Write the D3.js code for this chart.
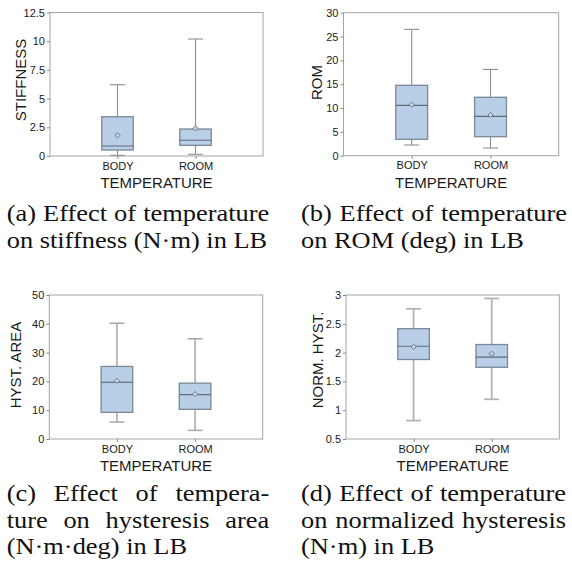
<!DOCTYPE html>
<html>
<head>
<meta charset="utf-8">
<script src="https://cdn.jsdelivr.net/npm/d3@7"></script>
<style>
  html, body { margin: 0; padding: 0; background: #fff; }
  svg { display: block; }
</style>
</head>
<body>
<svg id="fig" width="572" height="573"></svg>
<script>
// Temperature groups
const categories = ["BODY", "ROOM"];

// Five-number summaries per group: [min, q1, median, q3, max]
const stiffnessBody = [0.06, 0.52, 0.87, 3.42, 6.21];
const stiffnessRoom = [0.15, 0.93, 1.37, 2.35, 10.19];
const stiffnessMean = [1.80, 2.41];
const stiffnessTicks = [0, 2.5, 5, 7.5, 10, 12.5];

const romBody = [2.24, 3.44, 10.57, 14.77, 26.5];
const romRoom = [1.61, 3.99, 8.26, 12.25, 18.1];
const romMean = [10.7, 8.54];
const romTicks = [0, 5, 10, 15, 20, 25, 30];

const hystAreaBody = [5.9, 9.26, 19.7, 25.2, 40.2];
const hystAreaRoom = [3.0, 10.3, 15.4, 19.4, 34.8];
const hystAreaMean = [20.2, 15.6];
const hystAreaTicks = [0, 10, 20, 30, 40, 50];

const normHystBody = [0.82, 1.88, 2.11, 2.415, 2.76];
const normHystRoom = [1.19, 1.745, 1.92, 2.14, 2.94];
const normHystMean = [2.10, 1.98];
const normHystTicks = [0.5, 1, 1.5, 2, 2.5, 3];

// Caption lines; "true" marks a line set flush on both sides
const captionA = [["(a) Effect of temperature", true], ["on stiffness (N·m) in LB", false]];
const captionB = [["(b) Effect of temperature", true], ["on ROM (deg) in LB", false]];
const captionC = [["(c) Effect of tempera-", true], ["ture on hysteresis area", true], ["(N·m·deg) in LB", false]];
const captionD = [["(d) Effect of temperature", true], ["on normalized hysteresis", true], ["(N·m) in LB", false]];

const svg = d3.select("#fig");
const SANS = "'Liberation Sans', Arial, sans-serif";
const SERIF = "'Liberation Serif', 'Times New Roman', serif";

const panels = [
  { title: "STIFFNESS", boxes: [stiffnessBody, stiffnessRoom], means: stiffnessMean, ticks: stiffnessTicks,
    frame: { left: 50, right: 263, top: 12.5, bottom: 156 }, titlePos: [20, 80],
    whisker: { color: "#8e8e8e", width: 1.1 }, caption: captionA, capX: 6.7, capY: 221, capW: 262.5 },
  { title: "ROM", boxes: [romBody, romRoom], means: romMean, ticks: romTicks,
    frame: { left: 343.5, right: 558.7, top: 12.7, bottom: 155.7 }, titlePos: [316, 82.5],
    whisker: { color: "#8e8e8e", width: 1.1 }, caption: captionB, capX: 301, capY: 221, capW: 266 },
  { title: "HYST. AREA", boxes: [hystAreaBody, hystAreaRoom], means: hystAreaMean, ticks: hystAreaTicks,
    frame: { left: 49.3, right: 262.7, top: 295, bottom: 439 }, titlePos: [15, 365],
    whisker: { color: "#a8a8a8", width: 1.5 }, caption: captionC, capX: 6.7, capY: 501, capW: 262.5 },
  { title: "NORM. HYST.", boxes: [normHystBody, normHystRoom], means: normHystMean, ticks: normHystTicks,
    frame: { left: 346, right: 559.3, top: 295, bottom: 439 }, titlePos: [317.7, 360],
    whisker: { color: "#b4b4b4", width: 1.8 }, caption: captionD, capX: 301, capY: 501, capW: 265 }
];

panels.forEach(p => {
  const f = p.frame;
  const W = f.right - f.left;
  const y = d3.scaleLinear()
    .domain(d3.extent(p.ticks))
    .range([f.bottom, f.top]);
  const x = d3.scalePoint()
    .domain(categories)
    .range([f.left, f.right])
    .padding(0.865);

  const g = svg.append("g");

  // plot frame
  g.append("rect")
    .attr("x", f.left).attr("y", f.top)
    .attr("width", W).attr("height", f.bottom - f.top)
    .attr("fill", "none").attr("stroke", "#a4a4a4").attr("stroke-width", 1);

  // y axis
  const ya = g.append("g")
    .attr("transform", `translate(${f.left},0)`)
    .call(d3.axisLeft(y).tickValues(p.ticks).tickSize(3).tickPadding(2).tickFormat(d3.format("~g")));
  ya.select(".domain").remove();
  ya.selectAll(".tick line").attr("stroke", "#8a8a8a");
  ya.selectAll(".tick text").style("font-family", SANS).style("font-size", "11px").attr("fill", "#1a1a1a");

  // x axis
  const xa = g.append("g")
    .attr("transform", `translate(0,${f.bottom})`)
    .call(d3.axisBottom(x).tickSize(3).tickPadding(3));
  xa.select(".domain").remove();
  xa.selectAll(".tick line").attr("stroke", "#8a8a8a");
  xa.selectAll(".tick text").style("font-family", SANS).style("font-size", "11px").attr("fill", "#1a1a1a");

  // axis titles
  g.append("text")
    .attr("x", (f.left + f.right) / 2).attr("y", f.bottom + 32)
    .attr("text-anchor", "middle")
    .style("font-family", SANS).style("font-size", "15px").attr("fill", "#1a1a1a")
    .text("TEMPERATURE");
  g.append("text")
    .attr("transform", `translate(${p.titlePos[0]},${p.titlePos[1]}) rotate(-90)`)
    .attr("text-anchor", "middle").attr("dominant-baseline", "central")
    .style("font-family", SANS).style("font-size", "15px").attr("fill", "#1a1a1a")
    .text(p.title);

  // boxes
  const boxW = W * 0.148;
  const capW = W * 0.07;
  const data = categories.map((c, i) => ({ c, s: p.boxes[i], mean: p.means[i] }));
  const bg = g.selectAll(".box").data(data).join("g").attr("class", "box");

  // whiskers
  bg.append("line")
    .attr("x1", d => x(d.c)).attr("x2", d => x(d.c))
    .attr("y1", d => y(d.s[3])).attr("y2", d => y(d.s[4]))
    .attr("stroke", p.whisker.color).attr("stroke-width", p.whisker.width);
  bg.append("line")
    .attr("x1", d => x(d.c)).attr("x2", d => x(d.c))
    .attr("y1", d => y(d.s[0])).attr("y2", d => y(d.s[1]))
    .attr("stroke", p.whisker.color).attr("stroke-width", p.whisker.width);
  [0, 4].forEach(k => {
    bg.append("line")
      .attr("x1", d => x(d.c) - capW / 2).attr("x2", d => x(d.c) + capW / 2)
      .attr("y1", d => y(d.s[k])).attr("y2", d => y(d.s[k]))
      .attr("stroke", p.whisker.color).attr("stroke-width", p.whisker.width);
  });

  // interquartile box
  bg.append("rect")
    .attr("x", d => x(d.c) - boxW / 2)
    .attr("y", d => y(d.s[3]))
    .attr("width", boxW)
    .attr("height", d => y(d.s[1]) - y(d.s[3]))
    .attr("fill", "#b9cfe7").attr("stroke", "#7b8895").attr("stroke-width", 1.3);

  // median
  bg.append("line")
    .attr("x1", d => x(d.c) - boxW / 2).attr("x2", d => x(d.c) + boxW / 2)
    .attr("y1", d => y(d.s[2])).attr("y2", d => y(d.s[2]))
    .attr("stroke", "#5f6b78").attr("stroke-width", 1.2);

  // mean marker
  bg.append("path")
    .attr("transform", d => `translate(${x(d.c)},${y(d.mean)})`)
    .attr("d", "M0,-2.6L2.6,0L0,2.6L-2.6,0Z")
    .attr("fill", "#c9d9ec").attr("stroke", "#6d7680").attr("stroke-width", 1);

  // caption, words spread over the line width where the line is set flush
  const sx = 1.1;
  const fs = 24;
  const cg = svg.append("g")
    .attr("transform", `translate(${p.capX},0) scale(${sx},1)`)
    .style("font-family", SERIF).style("font-size", fs + "px").attr("fill", "#111");
  const lineGap = 26.7;
  p.caption.forEach(([line, flush], li) => {
    const words = line.split(" ");
    const yy = p.capY + li * lineGap;
    const nodes = words.map(w => cg.append("text").attr("y", yy).text(w));
    const widths = nodes.map(n => n.node().getComputedTextLength());
    const total = d3.sum(widths);
    const spaceW = fs * 0.25;
    const gap = flush && words.length > 1
      ? (p.capW / sx - total) / (words.length - 1)
      : spaceW;
    let cx = 0;
    nodes.forEach((n, i) => { n.attr("x", cx); cx += widths[i] + gap; });
  });
});
</script>
</body>
</html>
